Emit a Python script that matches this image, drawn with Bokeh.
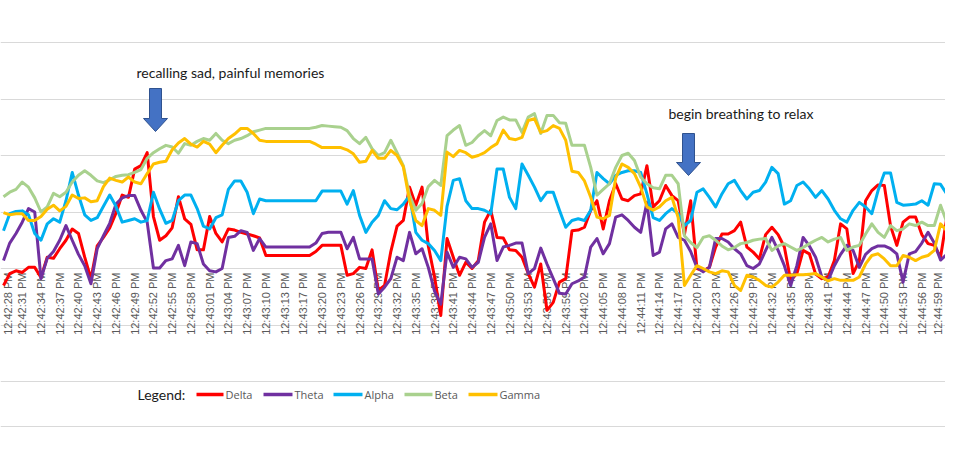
import math
from bokeh.plotting import figure
from bokeh.models import Range1d, Label
from bokeh.core.properties import value
from bokeh.embed import file_html
from bokeh.resources import INLINE

# ---------------- data ----------------
tick_labels = [
    "12:42:28 PM", "12:42:31 PM", "12:42:34 PM", "12:42:37 PM", "12:42:40 PM",
    "12:42:43 PM", "12:42:46 PM", "12:42:49 PM", "12:42:52 PM", "12:42:55 PM",
    "12:42:58 PM", "12:43:01 PM", "12:43:04 PM", "12:43:07 PM", "12:43:10 PM",
    "12:43:13 PM", "12:43:17 PM", "12:43:20 PM", "12:43:23 PM", "12:43:26 PM",
    "12:43:29 PM", "12:43:32 PM", "12:43:35 PM", "12:43:38 PM", "12:43:41 PM",
    "12:43:44 PM", "12:43:47 PM", "12:43:50 PM", "12:43:53 PM", "12:43:56 PM",
    "12:43:59 PM", "12:44:02 PM", "12:44:05 PM", "12:44:08 PM", "12:44:11 PM",
    "12:44:14 PM", "12:44:17 PM", "12:44:20 PM", "12:44:23 PM", "12:44:26 PM",
    "12:44:29 PM", "12:44:32 PM", "12:44:35 PM", "12:44:38 PM", "12:44:41 PM",
    "12:44:44 PM", "12:44:47 PM", "12:44:50 PM", "12:44:53 PM", "12:44:56 PM",
    "12:44:59 PM",
]
label_step = 3  # one label every third sample

delta = [
    -0.30, -0.09, -0.04, -0.07, 0.02, 0.02, -0.16, 0.20, 0.18, 0.35,
    0.50, 0.70, 0.62, 0.20, -0.18, 0.40, 0.55, 0.72, 0.98, 1.30,
    1.26, 1.76, 1.82, 2.05, 0.92, 0.50, 0.58, 0.72, 1.27, 0.88,
    0.78, 0.33, 0.33, 0.92, 0.62, 0.47, 0.70, 0.68, 0.64, 0.61,
    0.58, 0.54, 0.23, 0.23, 0.23, 0.23, 0.23, 0.23, 0.23, 0.23,
    0.30, 0.41, 0.41, 0.41, 0.41, -0.12, -0.09, 0.02, 0.00, 0.33,
    -0.39, -0.30, 0.30, 0.75, 0.85, 1.44, 1.12, 1.44, 0.40, -0.15,
    -0.83, 0.53, 0.20, -0.12, 0.11, 0.00, 0.14, 0.82, 1.03, 0.55,
    0.54, 0.33, 0.32, 0.20, -0.09, -0.33, 0.08, -0.74, -0.60, -0.24,
    -0.18, 0.67, 0.68, 0.73, 1.03, 1.20, 0.70, 1.20, 1.50, 1.23,
    1.20, 1.29, 1.32, 1.82, 1.09, 1.20, 1.47, 1.29, 1.20, 0.60,
    1.20, 0.00, -0.04, 0.02, 0.38, 0.61, 0.61, 0.67, 0.82, 0.38,
    0.29, 0.17, 0.60, 0.73, 0.60, 0.38, -0.21, -0.09, 0.32, 0.26,
    -0.10, -0.18, -0.15, 0.14, 0.79, 0.70, -0.09, 0.14, 1.20, 1.38,
    1.48, 1.47, 0.75, 0.41, 0.82, 0.91, 0.91, 0.60, 0.44, 0.41,
    0.20, 0.90, 1.20,
]
theta = [
    0.14, 0.45, 0.62, 0.82, 1.06, 1.00, -0.18, 0.18, 0.30, 0.50,
    0.76, 0.50, 0.25, 0.05, -0.27, 0.35, 0.58, 0.80, 1.14, 1.25,
    1.29, 1.29, 1.03, 0.82, 0.01, 0.01, 0.14, 0.17, 0.41, 0.05,
    0.47, 0.44, 0.08, -0.04, -0.06, 0.00, 0.55, 0.57, 0.67, 0.64,
    0.32, 0.53, 0.38, 0.38, 0.38, 0.38, 0.38, 0.38, 0.38, 0.38,
    0.45, 0.62, 0.64, 0.64, 0.64, 0.35, 0.55, 0.17, 0.17, 0.17,
    -0.45, -0.33, -0.18, 0.20, 0.14, 0.64, 0.26, 0.35, 0.02, -0.40,
    -0.63, 0.29, 0.02, 0.20, 0.17, 0.02, 0.11, 0.55, 0.79, 0.14,
    0.38, 0.41, 0.45, 0.45, -0.09, 0.00, 0.36, 0.08, -0.18, -0.44,
    -0.45, -0.27, -0.22, -0.15, 0.38, 0.53, 0.26, 0.44, 0.91, 0.95,
    0.85, 0.73, 0.64, 1.17, 0.23, 0.29, 0.70, 0.79, 0.55, 0.50,
    0.30, 0.02, -0.06, 0.02, 0.53, 0.53, 0.47, 0.35, 0.26, 0.05,
    0.00, 0.08, 0.32, 0.55, 0.32, 0.05, -0.30, 0.05, 0.55, 0.40,
    0.20, -0.15, -0.21, 0.05, 0.25, 0.41, 0.32, 0.02, 0.25, 0.35,
    0.40, 0.40, 0.35, 0.26, -0.24, 0.26, 0.30, 0.45, 0.64, 0.45,
    0.15, 0.25, 0.38,
]
alpha = [
    0.67, 0.97, 1.01, 1.02, 0.95, 0.62, 0.50, 0.79, 0.88, 0.82,
    1.20, 1.70, 1.30, 0.95, 0.85, 0.90, 1.10, 1.30, 1.10, 0.82,
    0.85, 0.88, 0.82, 0.85, 1.35, 1.05, 0.80, 0.85, 1.20, 1.30,
    1.30, 1.06, 0.75, 0.70, 0.90, 0.95, 1.40, 1.55, 1.55, 1.35,
    0.97, 1.23, 1.20, 1.20, 1.20, 1.20, 1.20, 1.20, 1.20, 1.20,
    1.20, 1.37, 1.37, 1.37, 1.37, 1.14, 1.38, 0.94, 0.64, 0.82,
    0.94, 1.20, 1.06, 1.04, 1.14, 1.29, 0.64, 0.50, 0.44, 0.32,
    0.14, 1.10, 1.56, 1.59, 1.20, 1.06, 1.06, 1.03, 0.97, 1.76,
    1.76, 1.26, 1.06, 1.85, 1.65, 1.44, 1.20, 1.35, 1.35, 1.03,
    0.73, 0.85, 0.88, 0.85, 1.03, 1.70, 1.59, 1.50, 1.65, 1.70,
    1.73, 1.73, 1.70, 1.32, 0.90, 0.85, 0.97, 1.06, 0.97, 0.76,
    0.85, 1.35, 1.41, 1.26, 1.09, 1.32, 1.50, 1.56, 1.38, 1.23,
    1.35, 1.38, 1.53, 1.79, 1.68, 1.14, 1.20, 1.47, 1.53, 1.41,
    1.26, 1.38, 1.23, 1.03, 0.88, 0.82, 1.03, 1.17, 1.09, 0.97,
    1.38, 1.69, 1.69, 1.17, 1.12, 1.13, 1.14, 1.20, 1.12, 1.50,
    1.49, 1.32, 1.41,
]
beta = [
    1.27, 1.35, 1.40, 1.53, 1.44, 1.25, 1.00, 1.09, 1.33, 1.27,
    1.35, 1.53, 1.65, 1.73, 1.65, 1.55, 1.52, 1.57, 1.63, 1.65,
    1.66, 1.70, 1.75, 1.95, 2.05, 2.12, 2.18, 2.15, 2.04, 2.21,
    2.18, 2.25, 2.30, 2.27, 2.39, 2.27, 2.21, 2.27, 2.30, 2.35,
    2.42, 2.45, 2.48, 2.48, 2.48, 2.48, 2.48, 2.48, 2.48, 2.48,
    2.50, 2.53, 2.52, 2.51, 2.50, 2.44, 2.30, 2.21, 2.32, 2.12,
    2.00, 2.05, 2.27, 2.05, 1.82, 1.30, 1.03, 1.15, 1.45, 1.56,
    1.47, 2.35, 2.45, 2.53, 2.18, 2.23, 2.35, 2.44, 2.35, 2.62,
    2.68, 2.63, 2.63, 2.41, 2.68, 2.74, 2.39, 2.71, 2.71, 2.58,
    2.57, 2.18, 2.18, 2.18, 1.79, 1.30, 1.40, 1.50, 1.79, 2.00,
    2.04, 1.91, 1.62, 1.50, 1.43, 1.41, 1.65, 1.65, 1.50, 0.58,
    0.46, 0.37, 0.55, 0.58, 0.50, 0.40, 0.33, 0.37, 0.44, 0.46,
    0.50, 0.52, 0.53, 0.32, 0.40, 0.44, 0.38, 0.32, 0.37, 0.44,
    0.50, 0.55, 0.47, 0.52, 0.55, 0.32, 0.38, 0.41, 0.61, 0.79,
    0.64, 0.55, 0.76, 0.67, 0.70, 0.79, 0.76, 0.82, 0.76, 0.76,
    1.12, 0.82, 0.85,
]
gamma = [
    0.99, 0.95, 0.97, 0.97, 0.85, 0.85, 0.92, 1.05, 1.12, 1.02,
    1.10, 1.30, 1.24, 1.25, 1.18, 1.20, 1.45, 1.60, 1.56, 1.53,
    1.62, 1.53, 1.50, 1.68, 1.85, 1.88, 1.90, 2.10, 2.22, 2.30,
    2.20, 2.15, 2.25, 2.20, 2.05, 2.18, 2.30, 2.38, 2.48, 2.48,
    2.39, 2.27, 2.25, 2.25, 2.25, 2.25, 2.25, 2.25, 2.25, 2.25,
    2.20, 2.14, 2.14, 2.14, 2.14, 2.10, 2.03, 1.88, 1.90, 2.09,
    1.95, 1.95, 2.09, 2.00, 1.80, 1.20, 0.85, 0.76, 1.06, 1.03,
    0.94, 2.06, 1.98, 2.09, 2.05, 1.97, 2.00, 2.05, 2.14, 2.21,
    2.45, 2.30, 2.28, 2.32, 2.62, 2.65, 2.41, 2.44, 2.53, 2.48,
    2.27, 1.72, 1.70, 1.55, 1.26, 0.91, 0.88, 0.94, 1.60, 1.85,
    1.79, 1.68, 1.44, 1.09, 1.03, 1.09, 1.20, 1.26, 0.90, -0.30,
    -0.12, 0.05, 0.00, -0.06, -0.09, -0.04, -0.06, -0.30, -0.39, -0.12,
    -0.15, -0.21, -0.30, -0.33, -0.24, -0.12, -0.12, -0.11, -0.11, -0.10,
    -0.09, -0.15, -0.22, -0.18, -0.21, -0.21, -0.21, -0.15, 0.08, 0.23,
    0.26, 0.17, 0.05, 0.05, 0.23, 0.20, 0.14, 0.20, 0.23, 0.32,
    0.79, 0.67, 0.44,
]

series_names = ["Delta", "Theta", "Alpha", "Beta", "Gamma"]
series_values = [delta, theta, alpha, beta, gamma]
series_colors = ["#FF0000", "#7030A0", "#00B0F0", "#A9D18E", "#FFC000"]

grid_values = [4, 3, 2, 1, 0, -1, -2]

annotation_texts = ["recalling sad, painful memories", "begin breathing to relax"]

# ---------------- layout helpers (reference picture pixels -> data) ----------------
PX0, PXS = 3.0, 6.247     # x pixel of sample 0, pixels per sample
PY0, PYS = 268.0, 56.5    # y pixel of value 0, pixels per unit


def ix(px):
    return (px - PX0) / PXS


def vy(py):
    return (PY0 - py) / PYS


W, H = 945, 439
p = figure(width=W, height=H,
           x_range=Range1d(ix(0), ix(W)),
           y_range=Range1d(vy(H), vy(0)),
           output_backend="svg", toolbar_location=None,
           x_axis_location=None, y_axis_location=None,
           min_border=0, outline_line_color=None,
           background_fill_color="white", border_fill_color="white")
p.grid.visible = False

# gridlines
p.hspan(y=grid_values, line_color="#D9D9D9", line_width=1)
p.hspan(y=[vy(426)], line_color="#D9D9D9", line_width=1)

# category labels (rotated), drawn beneath the series; kept inside the canvas
lab_x = [min(max(k * label_step, ix(7.5)), ix(W - 7.5)) for k in range(len(tick_labels))]
lab_y = [vy(272)] * len(tick_labels)
p.text(x=lab_x, y=lab_y, text=tick_labels, angle=math.pi / 2,
       text_align="right", text_baseline="middle",
       text_font=value("Liberation Sans"), text_font_size="11px",
       text_color="#595959")

# series
for name, vals, col in zip(series_names, series_values, series_colors):
    p.line(x=list(range(len(vals))), y=vals, line_color=col, line_width=3,
           line_join="round")

# annotation texts + block arrows
ann_text_px = [(136, 72), (668, 113)]
arrow_top_px = [88, 133]
arrow_tip_px = [131, 175]
arrow_cx_px = [155, 688]
for txt, (tx, ty), top, tip, cx in zip(annotation_texts, ann_text_px, arrow_top_px,
                                       arrow_tip_px, arrow_cx_px):
    p.add_layout(Label(x=ix(tx), y=vy(ty), text=txt, text_baseline="middle",
                       text_align="left", text_font="Lato", text_font_size="14px",
                       text_color="#1a1a1a"))
    hb = tip - 13
    xs = [cx - 6, cx + 6, cx + 6, cx + 12, cx, cx - 12, cx - 6]
    ys = [top, top, hb, hb, tip, hb, hb]
    p.patch(x=[ix(v) for v in xs], y=[vy(v) for v in ys],
            fill_color="#4472C4", line_color="#2F528F", line_width=1)

# legend
leg_y = vy(394)
p.add_layout(Label(x=ix(137), y=leg_y, text="Legend:", text_baseline="middle",
                   text_align="left", text_font="Lato", text_font_size="14px",
                   text_color="#1a1a1a"))
leg_line_px = [(196, 223), (263, 292), (333, 362), (404, 432), (468, 497)]
p.segment(x0=[ix(a) for a, b in leg_line_px], y0=[leg_y] * 5,
          x1=[ix(b) for a, b in leg_line_px], y1=[leg_y] * 5,
          line_color=series_colors, line_width=3.5)
p.text(x=[ix(b + 2) for a, b in leg_line_px], y=[leg_y] * 5, text=series_names,
       text_align="left", text_baseline="middle",
       text_font=value("Open Sans"), text_font_size="11px", text_color="#595959")

open("out.html", "w").write(file_html(p, INLINE))
